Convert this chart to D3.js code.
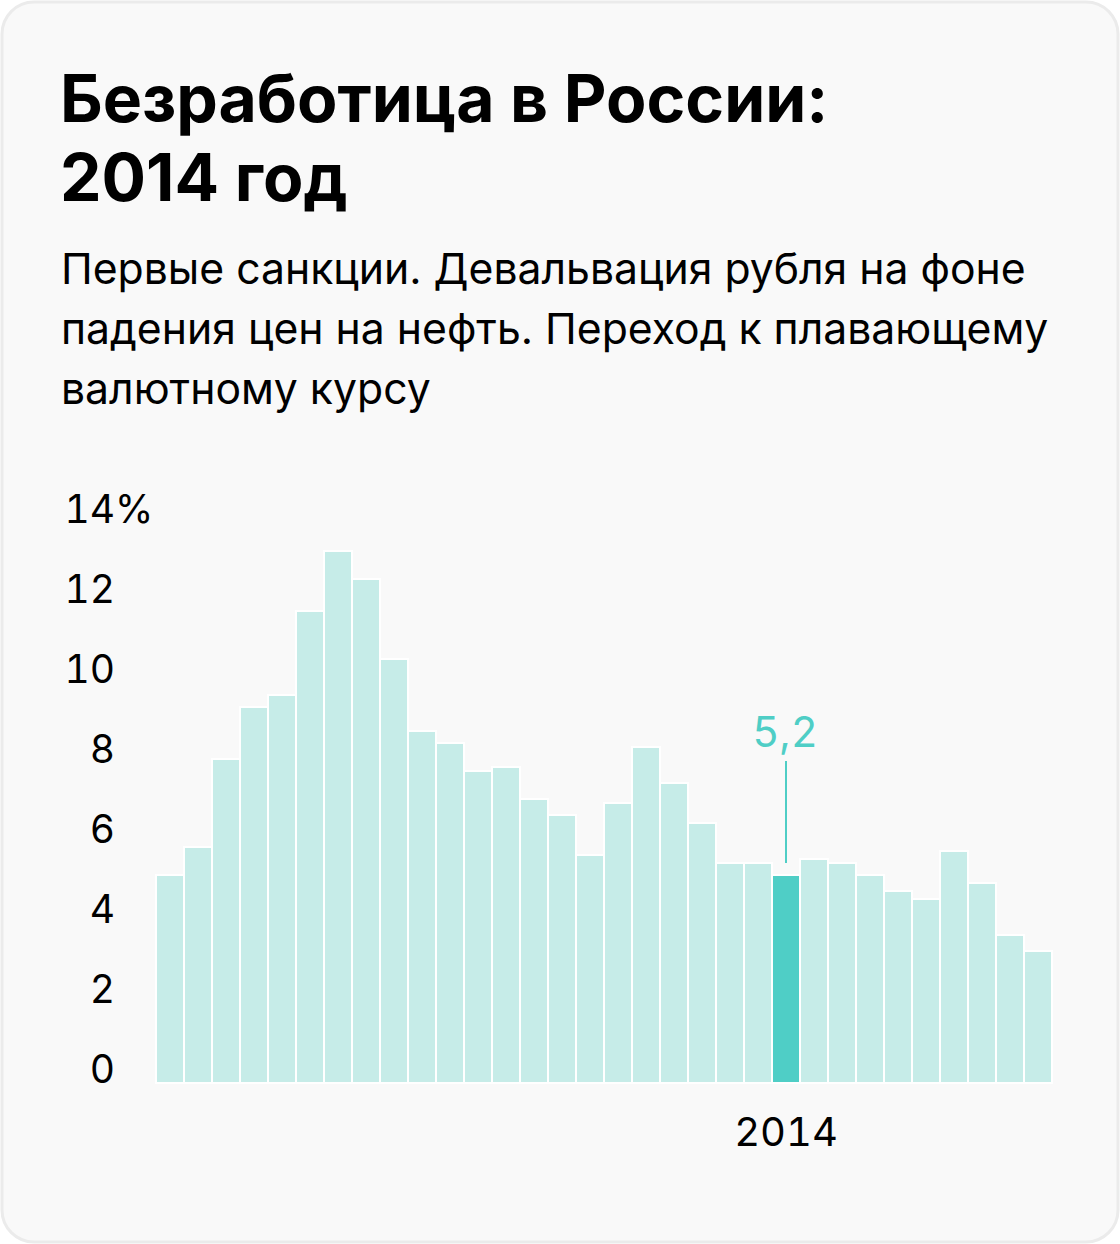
<!DOCTYPE html>
<html>
<head>
<meta charset="utf-8">
<script src="https://cdn.jsdelivr.net/npm/d3@7"></script>
<style>
  html, body { margin: 0; padding: 0; background: #ffffff; }
  svg { display: block; }
  text.num { font-feature-settings: "tnum" 1; }
  .axis text { font-feature-settings: "tnum" 1; }
</style>
</head>
<body>
<svg id="chart" width="1120" height="1244"></svg>
<script>
// ---- data ----
const years = [1992,1993,1994,1995,1996,1997,1998,1999,2000,2001,2002,2003,2004,2005,2006,2007,
               2008,2009,2010,2011,2012,2013,2014,2015,2016,2017,2018,2019,2020,2021,2022,2023];
const unemployment = [5.2,5.9,8.1,9.4,9.7,11.8,13.3,12.6,10.6,8.8,8.5,7.8,7.9,7.1,6.7,5.7,
                      7.0,8.4,7.5,6.5,5.5,5.5,5.2,5.6,5.5,5.2,4.8,4.6,5.8,5.0,3.7,3.3];
const yTicks = [0,2,4,6,8,10,12,14];
const xTickLabels = [2014];
const highlightYear = 2014;
const highlightLabel = "5,2";
const titleLines = ["Безработица в России:", "2014 год"];
const subtitleLines = ["Первые санкции. Девальвация рубля на фоне",
                       "падения цен на нефть. Переход к плавающему",
                       "валютному курсу"];

const svg = d3.select("#chart");
const FONT = "Inter, 'Noto Sans', sans-serif";

// card
svg.append("rect")
  .attr("x", 2).attr("y", 2).attr("width", 1116).attr("height", 1240)
  .attr("rx", 32).attr("ry", 32)
  .attr("fill", "#f9f9f9").attr("stroke", "#ebebeb").attr("stroke-width", 3);

// title
const title = svg.append("text")
  .attr("font-family", FONT).attr("font-weight", 700)
  .attr("font-size", 66).attr("fill", "#000");
titleLines.forEach((t, i) => {
  title.append("tspan").attr("x", 60).attr("y", 122 + i * 79).text(t);
});

// subtitle
const sub = svg.append("text")
  .attr("font-family", FONT).attr("font-weight", 400)
  .attr("font-size", 42.7).attr("fill", "#000");
subtitleLines.forEach((t, i) => {
  sub.append("tspan").attr("x", 61).attr("y", 284 + i * 60).text(t);
});

// scales
const x = d3.scaleBand().domain(years).range([156, 1052]).padding(0);
const y = d3.scaleLinear().domain([0, 14]).range([1083, 523]);

// bars
svg.append("g").selectAll("rect")
  .data(years.map((yr, i) => ({ yr, v: unemployment[i] })))
  .join("rect")
  .attr("x", d => x(d.yr))
  .attr("width", x.bandwidth())
  .attr("y", d => y(d.v))
  .attr("height", d => y(0) - y(d.v))
  .attr("fill", d => d.yr === highlightYear ? "#4fcec6" : "#c6ece8")
  .attr("stroke", "#ffffff").attr("stroke-width", 2);

// y axis
const yAxis = svg.append("g").attr("class", "axis")
  .attr("transform", "translate(115,0)")
  .call(d3.axisLeft(y).tickValues(yTicks).tickSize(0).tickPadding(0).tickFormat(d3.format("d")));
yAxis.select(".domain").remove();
yAxis.selectAll("text")
  .attr("font-family", FONT).attr("font-size", 39).attr("fill", "#000")
  .attr("dy", -1).attr("text-anchor", "end");
yAxis.selectAll(".tick").filter(d => d === 14)
  .append("text")
  .attr("x", 0).attr("dy", -1)
  .attr("font-family", FONT).attr("font-size", 39).attr("fill", "#000")
  .attr("text-anchor", "start").text("%");

// x axis
const xAxis = svg.append("g").attr("class", "axis")
  .attr("transform", "translate(0,1146)")
  .call(d3.axisBottom(x).tickValues(xTickLabels).tickSize(0).tickPadding(0).tickFormat(d3.format("d")));
xAxis.select(".domain").remove();
xAxis.selectAll("text")
  .attr("font-family", FONT).attr("font-size", 40).attr("fill", "#000")
  .attr("dy", 0).attr("y", 0);

// annotation
const hv = unemployment[years.indexOf(highlightYear)];
const cx = x(highlightYear) + x.bandwidth() / 2;
svg.append("line")
  .attr("x1", cx).attr("x2", cx)
  .attr("y1", y(hv) - 12).attr("y2", y(hv) - 114)
  .attr("stroke", "#4fcec6").attr("stroke-width", 2);
svg.append("text").attr("class", "num")
  .attr("x", cx - 1).attr("y", y(hv) - 128)
  .attr("text-anchor", "middle")
  .attr("font-family", FONT).attr("font-size", 42).attr("fill", "#4fcec6")
  .text(highlightLabel);
</script>
</body>
</html>
